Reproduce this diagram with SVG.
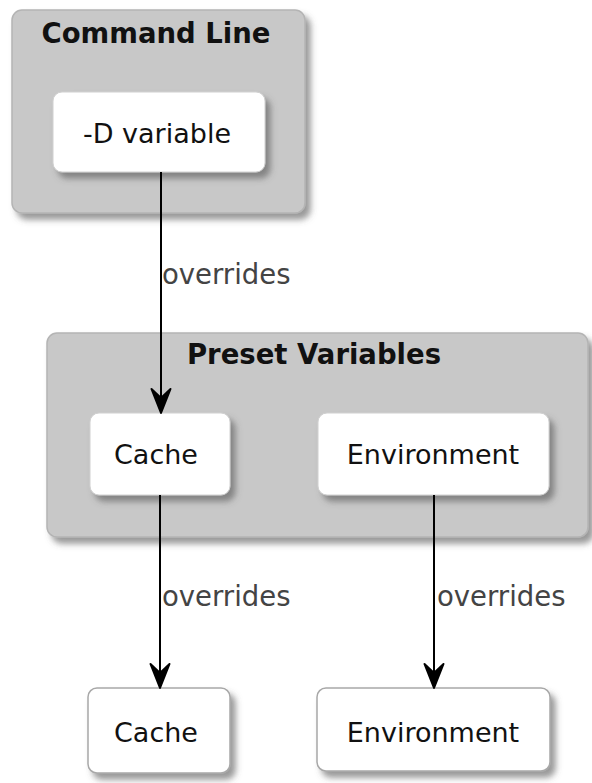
<svg xmlns="http://www.w3.org/2000/svg" width="592" height="783" viewBox="0 0 592 783">
<defs>
<filter id="sh" x="-10%" y="-10%" width="130%" height="140%">
<feDropShadow dx="5" dy="6" stdDeviation="3" flood-color="#555" flood-opacity="0.6"/>
</filter>
<marker id="arr" markerWidth="28" markerHeight="24" refX="26" refY="12" orient="auto" markerUnits="userSpaceOnUse" viewBox="0 0 28 24">
<path d="M26,12 L2,2.5 L11,12 L2,21.5 Z" fill="#000" stroke="#000" stroke-width="2" stroke-linejoin="round"/>
</marker>
<style>
.grp{fill:#c8c8c8;stroke:#b4b4b4;stroke-width:1.5;filter:url(#sh)}
.node{fill:#fff;stroke:#d0d0d0;stroke-width:1;filter:url(#sh)}
.node2{fill:#fff;stroke:#a8a8a8;stroke-width:1.5;filter:url(#sh)}
.title{font-family:"DejaVu Sans",Verdana,sans-serif;font-weight:bold;font-size:27.5px;fill:#111;text-anchor:middle}
.lbl{font-family:"DejaVu Sans",Verdana,sans-serif;font-size:27px;fill:#111;text-anchor:middle}
.edge{font-family:"DejaVu Sans",Verdana,sans-serif;font-size:27.5px;fill:#444}
.con{stroke:#000;stroke-width:2;fill:none;marker-end:url(#arr)}
</style>
</defs>
<g id="command-line">
<rect class="grp" x="12" y="10" width="293" height="203" rx="10"/>
<text class="title" x="156" y="43">Command Line</text>
</g>
<g id="d-variable">
<rect class="node" x="53" y="92" width="212" height="80" rx="9"/>
<text class="lbl" x="157" y="143">-D variable</text>
</g>
<g id="preset-variables">
<rect class="grp" x="47" y="333" width="541" height="204" rx="10"/>
<text class="title" x="314" y="364">Preset Variables</text>
</g>
<g id="preset-cache">
<rect class="node" x="90" y="413" width="140" height="82" rx="9"/>
<text class="lbl" x="156" y="464">Cache</text>
</g>
<g id="preset-environment">
<rect class="node" x="318" y="413" width="231" height="82" rx="9"/>
<text class="lbl" x="433" y="464">Environment</text>
</g>
<g id="cache">
<rect class="node2" x="88" y="688" width="142" height="85" rx="9"/>
<text class="lbl" x="156" y="742">Cache</text>
</g>
<g id="environment">
<rect class="node2" x="317" y="688" width="233" height="83" rx="9"/>
<text class="lbl" x="433" y="742">Environment</text>
</g>
<g id="connectors">
<line class="con" x1="161" y1="172" x2="161" y2="413"/>
<text class="edge" x="162" y="284">overrides</text>
<line class="con" x1="160" y1="495" x2="160" y2="688"/>
<text class="edge" x="162" y="606">overrides</text>
<line class="con" x1="434" y1="495" x2="434" y2="688"/>
<text class="edge" x="437" y="606">overrides</text>
</g>
</svg>
